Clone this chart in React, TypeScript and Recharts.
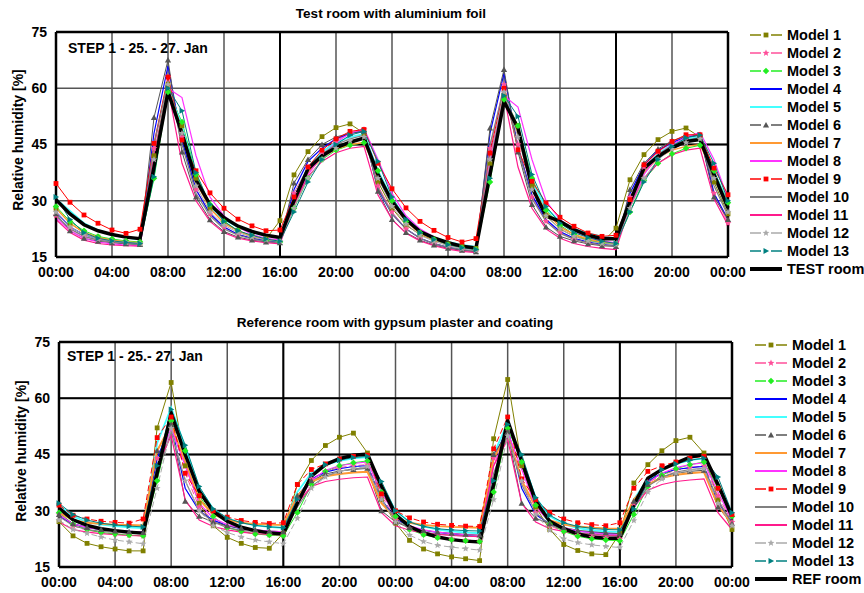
import React from "react";
import { LineChart, Line, XAxis, YAxis, CartesianGrid, ReferenceLine } from "recharts";

// hours since 00:00 on 25 Jan
const hours = [0, 1, 2, 3, 4, 5, 6, 7, 8, 9, 10, 11, 12, 13, 14, 15, 16, 17, 18, 19, 20, 21, 22, 23, 24, 25, 26, 27, 28, 29, 30, 31, 32, 33, 34, 35, 36, 37, 38, 39, 40, 41, 42, 43, 44, 45, 46, 47, 48];
const xTicks = [0, 4, 8, 12, 16, 20, 24, 28, 32, 36, 40, 44, 48];
const xTickLabels = ["00:00", "04:00", "08:00", "12:00", "16:00", "20:00", "00:00", "04:00", "08:00", "12:00", "16:00", "20:00", "00:00"];
const yTicks = [15, 30, 45, 60, 75];

const modelNames = ["Model 1", "Model 2", "Model 3", "Model 4", "Model 5", "Model 6", "Model 7", "Model 8", "Model 9", "Model 10", "Model 11", "Model 12", "Model 13"];

// ---- Test room with aluminium foil ----
const testM1 = [28, 24, 21.5, 20.3, 19.5, 19, 18.7, 42, 61, 50, 36, 28, 24, 22, 20.5, 19.8, 24.7, 36.9, 43.1, 47.1, 49.5, 50.5, 48, 35, 28, 23.5, 21, 19.5, 18.5, 17.8, 17.3, 40, 58, 50, 34, 26, 22.5, 20.5, 19.5, 18.8, 22.7, 35.6, 42.3, 46.3, 48.5, 49.4, 47, 35, 26.5];
const testM2 = [26, 22.5, 20.5, 19.5, 19, 18.6, 18.4, 44, 63, 47, 33, 26.5, 23, 21, 20, 19.4, 19, 32, 39, 43, 46, 48, 49, 34, 27, 22.5, 20, 18.5, 17.5, 16.8, 16.4, 44, 61, 45, 31, 24.5, 21.5, 19.8, 18.8, 18.2, 18, 31, 39, 43, 45.5, 47, 47.5, 32, 24];
const testM3 = [28.5, 24.5, 22, 20.5, 19.8, 19.3, 19, 36, 59, 51, 37, 29, 24.5, 22, 20.5, 19.5, 19, 28, 36, 41, 43.5, 44.8, 45.5, 38, 30, 24.5, 21.5, 19.7, 18.3, 17.5, 17, 35, 57, 50, 36, 27.5, 23.5, 21, 19.5, 18.7, 18.4, 27, 35.5, 40, 42.5, 44, 44.8, 38, 29.5];
const testM4 = [27, 23, 21, 19.8, 19.2, 18.8, 18.5, 48, 66, 46, 33, 26.5, 23, 21, 20, 19.3, 18.8, 33, 40.5, 44, 46.5, 48, 48.5, 33, 26.5, 22.5, 20, 18.6, 17.6, 17, 16.6, 48, 64, 44, 31.5, 25, 21.8, 20, 19, 18.4, 18, 32, 39.5, 43.5, 45.5, 47, 47.5, 32, 25];
const testM5 = [30.5, 27.3, 24, 22.2, 21, 20.2, 19.7, 40, 60, 50, 36, 28.5, 25, 23, 21.5, 20.8, 20.2, 31, 39, 43, 45.5, 47, 47.8, 38, 30.5, 25.5, 22, 20.2, 19, 18.2, 17.7, 40, 58, 49, 35, 28, 24.5, 22.5, 21.3, 20.5, 20, 30.5, 38.5, 42.5, 45, 46.5, 47, 38, 29];
const testM6 = [26.5, 22, 20, 19.2, 18.8, 18.5, 18.3, 52.2, 67.5, 43, 31, 24.9, 21.8, 20.3, 19.5, 19, 18.8, 34.7, 41, 45, 47, 48, 48.5, 32.5, 25, 21.5, 19.5, 18.2, 17.3, 16.8, 16.4, 49.4, 65, 43, 29, 23, 20.5, 19.3, 18.5, 18, 17.8, 33, 40, 43.8, 46, 47.2, 47.5, 31, 25];
const testM7 = [28, 24, 21.5, 20.2, 19.5, 19, 18.8, 40, 60, 49, 35, 28, 24, 22, 20.5, 19.8, 19.3, 30, 37.5, 41.5, 43.8, 45, 45.5, 37, 29.5, 24.5, 21.3, 19.6, 18.3, 17.5, 17, 40, 57.5, 48, 34, 27, 23, 21, 19.8, 19, 18.6, 29.5, 37.5, 41.5, 43.5, 44.5, 45, 37, 28];
const testM8 = [25.5, 22, 20, 19, 18.5, 18.2, 18, 40, 60, 57.5, 42, 31, 26, 23, 21, 20, 19.5, 29, 37, 42, 45.5, 48, 49.3, 41, 32, 26, 22.5, 20.3, 18.8, 17.8, 17.2, 40, 58, 55, 41, 30, 25, 22, 20.3, 19.3, 18.8, 28.5, 37, 42, 45, 47, 48.2, 41, 30.5];
const testM9 = [34.6, 29.6, 26.2, 24, 22.2, 21.3, 22.4, 45.3, 63, 46.2, 38, 32.1, 28, 25.1, 23.3, 22, 22.2, 31, 39, 43.5, 46.5, 48.5, 49, 40, 33.2, 28.1, 24.5, 22.1, 20.2, 19, 19.9, 42.7, 60, 43.6, 35.2, 29.4, 25.6, 23.2, 21.4, 20.5, 20.8, 30.3, 39.6, 43.2, 45.8, 47.6, 47.6, 38.7, 31.6];
const testM10 = [26, 22.5, 20.5, 19.5, 19, 18.6, 18.3, 45, 62, 45, 32, 26, 22.5, 20.8, 19.8, 19.2, 18.8, 30, 38, 42.5, 45, 46.5, 47.5, 33.5, 26.5, 22.5, 20, 18.6, 17.6, 17, 16.6, 45, 60, 44, 30.5, 24.5, 21.3, 19.7, 18.8, 18.2, 17.9, 29.5, 38, 42.3, 44.8, 46.2, 46.8, 34, 26];
const testM11 = [25, 21.5, 19.5, 18.6, 18.2, 18, 17.9, 42, 60, 40, 30, 24.5, 21.5, 20, 19.3, 18.8, 18.5, 29, 36.5, 40.5, 42.8, 44, 44.5, 31.5, 25, 21.3, 19.3, 18, 17.1, 16.5, 16.2, 42, 58, 39, 28, 22.5, 20, 18.6, 17.8, 17.3, 17, 28.5, 36, 40, 42.3, 43.5, 44, 30.5, 23.5];
const testM12 = [27, 23, 21, 19.8, 19.2, 18.9, 18.6, 41, 61, 48, 34, 27, 23.5, 21.5, 20.3, 19.6, 19.2, 28, 36, 41, 44, 46, 47, 36, 28.5, 23.8, 20.8, 19.2, 18, 17.2, 16.8, 41, 59, 47, 33, 26, 22.5, 20.5, 19.3, 18.6, 18.3, 28, 36, 41, 43.8, 45.5, 46.5, 36, 27];
const testM13 = [31, 25, 21.5, 20, 19.3, 18.9, 18.6, 36.4, 60, 54, 37.5, 29, 24.5, 22, 20.8, 19.8, 19.2, 27, 35, 41, 45, 47.5, 48.5, 40.5, 31, 25, 21.5, 19.7, 18.3, 17.5, 17, 36, 58, 52.5, 37, 28.5, 24, 21.5, 20.2, 19.2, 18.6, 27, 35, 41, 44.5, 46.8, 47.5, 40, 30];
const testRoom = [30.3, 26.5, 23.6, 22, 21, 20.3, 19.9, 39, 59, 48, 35.5, 29, 25.5, 23.2, 21.8, 20.8, 20.2, 30, 38.5, 42, 44.2, 45.6, 46.7, 37, 29.8, 25, 21.8, 20.1, 18.8, 17.9, 17.4, 37, 56.5, 49.4, 33.5, 26, 24.5, 22.3, 20.8, 19.9, 19.9, 29.8, 38.7, 41.8, 44.1, 45.8, 46.3, 37, 28.1];

// ---- Reference room with gypsum plaster and coating ----
const refM1 = [27.1, 23.3, 21.3, 20.4, 19.8, 19.3, 19.3, 52.1, 64.2, 42, 32, 26, 22.9, 21.3, 20.2, 20, 24, 37, 43.4, 47.4, 49.6, 50.7, 45.4, 33, 26.7, 22.1, 19.8, 18.5, 17.7, 17.2, 16.7, 49.2, 65, 42, 31, 25, 21, 19.4, 18.5, 18.3, 24, 37.4, 42.3, 46, 48.7, 49.6, 45.4, 33, 25];
const refM2 = [29, 26, 24.8, 24.2, 23.8, 23.5, 23.3, 44, 54, 40, 31, 27.5, 25.5, 24.5, 24, 23.6, 23.4, 33, 38.5, 40.5, 41.5, 42, 42.3, 34, 28, 25.2, 23.8, 23, 22.5, 22.2, 22, 44, 52, 38, 29.5, 26, 24.5, 23.5, 23, 22.7, 22.5, 32, 37.5, 39.5, 40.8, 41.5, 42, 34, 27];
const refM3 = [29.5, 26.5, 25, 24.2, 23.8, 23.5, 23.3, 38, 54, 46, 34, 28.5, 25.5, 24.5, 23.8, 23.5, 23.3, 29.5, 37, 40.5, 42, 42.8, 43.3, 35, 28.5, 25, 23.6, 22.8, 22.3, 22, 21.8, 35, 52, 43, 31.5, 26.5, 24.5, 23.2, 22.5, 22.2, 22, 29, 36.5, 39.5, 41.2, 42.3, 43, 36, 28.5];
const refM4 = [28.5, 26.5, 25.5, 25, 24.7, 24.5, 24.3, 44, 53, 36, 30, 27.5, 26, 25.2, 24.8, 24.5, 24.3, 34, 38.5, 40.3, 41.2, 41.8, 42, 33, 28, 25.8, 24.8, 24.2, 23.8, 23.5, 23.3, 44, 52, 36, 29, 26.5, 25.3, 24.6, 24.2, 23.9, 23.7, 33, 38, 40, 41, 41.5, 41.8, 32, 27];
const refM5 = [31.5, 28.5, 27, 26.3, 25.9, 25.6, 25.4, 48, 57.5, 47, 36, 30.5, 28, 26.8, 26.1, 25.7, 25.4, 35, 40, 42.2, 43.3, 44, 44.3, 37, 30, 27, 25.8, 25, 24.5, 24.2, 24, 45, 53.5, 44, 33.5, 28.5, 26.5, 25.4, 24.8, 24.5, 24.3, 33, 38.5, 41, 42.5, 43.5, 44, 37.5, 29];
const refM6 = [29, 26.5, 25.5, 25, 24.6, 24.4, 24.2, 46, 53, 32.5, 28.5, 27, 26, 25.3, 24.9, 24.6, 24.4, 34, 38, 39.8, 40.6, 41, 41.3, 30, 27, 25.5, 24.8, 24.3, 24, 23.7, 23.5, 45, 51, 32, 28, 26.5, 25.5, 24.8, 24.4, 24.1, 23.9, 32.5, 37, 39, 40, 40.5, 40.8, 31, 26.5];
const refM7 = [29.5, 27.5, 26.8, 26.5, 26.3, 26.2, 26.1, 46, 53, 43, 33, 29, 27.5, 26.8, 26.5, 26.3, 26.2, 34, 37.8, 39.2, 39.8, 40.2, 40.4, 32, 28, 26.8, 26.2, 25.9, 25.7, 25.6, 25.5, 44, 50.5, 38, 31, 27.5, 26.3, 25.8, 25.5, 25.3, 25.2, 33, 37, 38.8, 39.6, 40, 40.3, 31.5, 26.5];
const refM8 = [29, 26.5, 25.5, 25, 24.7, 24.5, 24.3, 42, 52, 42, 32, 28, 26.3, 25.4, 24.9, 24.6, 24.4, 32, 38, 40.8, 42, 42.6, 43, 35, 28.5, 26, 24.9, 24.3, 23.9, 23.6, 23.4, 42, 51, 41, 31, 27, 25.5, 24.6, 24.1, 23.8, 23.6, 31.5, 37.5, 40, 41.5, 42.3, 42.8, 35, 27.5];
const refM9 = [31.5, 28.8, 27.8, 27.2, 26.9, 26.7, 27.8, 49.5, 55, 40, 34, 30, 28.3, 27.4, 26.9, 26.6, 26.8, 37, 41, 42.5, 43.8, 44.5, 44.8, 34.5, 30, 28.1, 27, 26.4, 26.1, 25.9, 25.8, 46.5, 55, 38.5, 33, 29.5, 27.8, 26.8, 26.3, 26, 26.8, 36, 40.5, 42, 43, 44, 44.5, 36, 29];
const refM10 = [28.5, 26, 25, 24.5, 24.2, 24, 23.9, 40, 51, 38, 30, 27, 25.5, 24.8, 24.4, 24.2, 24, 31, 36.5, 39.2, 40.5, 41.2, 41.5, 33, 27.5, 25.2, 24.3, 23.8, 23.5, 23.3, 23.2, 40, 50, 37, 29.5, 26.2, 25, 24.2, 23.8, 23.5, 23.4, 31, 36.5, 39, 40.3, 41, 41.3, 33, 26.5];
const refM11 = [27, 25, 24.3, 23.9, 23.6, 23.4, 23.3, 42, 50, 33, 27.5, 25.8, 24.9, 24.3, 23.9, 23.7, 23.5, 32, 36.5, 37.8, 38.4, 38.8, 39, 29.5, 26, 24.8, 24.1, 23.7, 23.4, 23.2, 23.1, 42, 49, 32, 27, 25.2, 24.5, 24, 23.6, 23.4, 23.3, 31, 35.5, 37, 37.8, 38.2, 38.5, 29.5, 25];
const refM12 = [27.5, 25, 24, 23, 22.2, 21.7, 21.2, 36, 52, 38, 30, 26, 24.2, 23, 22.2, 21.7, 21.2, 28, 36, 39, 40.5, 41.3, 41.8, 33, 27, 23.5, 21.8, 20.8, 20.3, 19.9, 19.5, 33, 50, 38, 29, 24.8, 22.5, 21.5, 20.9, 20.5, 20.2, 27.4, 35, 38.5, 40, 40.8, 41.2, 32, 26];
const refM13 = [32, 29, 27.5, 26.7, 26.2, 25.9, 25.7, 42, 57, 47.5, 36.5, 30.5, 28, 26.8, 26.1, 25.7, 25.5, 33, 39.5, 42.3, 43.5, 44.2, 44.5, 37.8, 30, 27, 25.8, 25.2, 24.9, 24.7, 24.6, 38, 53, 45, 33.5, 28.8, 26.8, 25.8, 25.3, 25, 24.9, 30.5, 37.5, 41, 42.5, 43.5, 44, 39, 29.5];
const refRoom = [30.7, 27.6, 26.1, 25.2, 24.7, 24.3, 24, 40, 56, 45, 35.2, 29.8, 27.2, 25.6, 24.7, 24.1, 23.8, 32, 39.2, 42.3, 43.9, 44.8, 45.1, 36.5, 29, 25.8, 24.1, 23, 22.3, 21.9, 21.7, 37, 54, 43.2, 32.5, 27.2, 25.2, 23.8, 23, 22.7, 22.7, 31.6, 38.7, 41, 42.7, 44.3, 45, 37, 28.5];

type Shape = "square" | "star" | "diamond" | "triangle" | "tright" | null;
interface SeriesStyle { color: string; width: number; marker: Shape; dash?: string; msize?: number }

const baseStyles: SeriesStyle[] = [
  { color: "#808000", width: 1, marker: "square" },
  { color: "#ff4f9a", width: 1, marker: "star" },
  { color: "#22ee22", width: 1, marker: "diamond" },
  { color: "#0000ff", width: 1.2, marker: null },
  { color: "#44ffff", width: 1.8, marker: null },
  { color: "#555555", width: 1, marker: "triangle" },
  { color: "#ff9933", width: 1.5, marker: null },
  { color: "#ff33ff", width: 1.2, marker: null },
  { color: "#ff0000", width: 1, marker: "square" },
  { color: "#808080", width: 1.2, marker: null },
  { color: "#ff1a8c", width: 1.2, marker: null },
  { color: "#aaaaaa", width: 1, marker: "star" },
  { color: "#008080", width: 1, marker: "tright" },
];
const roomStyle: SeriesStyle = { color: "#000000", width: 3.5, marker: null };

const topStyles = [...baseStyles, roomStyle];
const bottomStyles = baseStyles
  .map((s, i) => (i === 1 || i === 8 || i === 11 ? { ...s, dash: "6 3" } : i === 6 ? { ...s, width: 2 } : s))
  .concat([roomStyle]);

function buildRows(series: number[][]) {
  return hours.map((h, i) => {
    const row: Record<string, number> = { hour: h };
    series.forEach((s, k) => {
      row[`s${k}`] = s[i];
    });
    return row;
  });
}

const topRows = buildRows([testM1, testM2, testM3, testM4, testM5, testM6, testM7, testM8, testM9, testM10, testM11, testM12, testM13, testRoom]);
const bottomRows = buildRows([refM1, refM2, refM3, refM4, refM5, refM6, refM7, refM8, refM9, refM10, refM11, refM12, refM13, refRoom]);

const FONT = "'Liberation Sans', Arial, sans-serif";

function MarkerShape({ cx, cy, shape, color, r }: { cx?: number; cy?: number; shape: Shape; color: string; r: number }) {
  if (cx == null || cy == null || !shape) return null;
  if (shape === "square") return <rect x={cx - r} y={cy - r} width={2 * r} height={2 * r} fill={color} />;
  if (shape === "diamond") {
    const d = r * 1.35;
    return <polygon points={`${cx},${cy - d} ${cx + d},${cy} ${cx},${cy + d} ${cx - d},${cy}`} fill={color} />;
  }
  if (shape === "triangle") {
    const d = r * 1.3;
    return <polygon points={`${cx},${cy - d} ${cx + d},${cy + d * 0.8} ${cx - d},${cy + d * 0.8}`} fill={color} />;
  }
  if (shape === "tright") {
    const d = r * 1.3;
    return <polygon points={`${cx - d * 0.8},${cy - d} ${cx + d},${cy} ${cx - d * 0.8},${cy + d}`} fill={color} />;
  }
  // star
  const pts: string[] = [];
  const R = r * 1.5;
  for (let i = 0; i < 10; i++) {
    const rad = i % 2 === 0 ? R : R * 0.45;
    const a = -Math.PI / 2 + (i * Math.PI) / 5;
    pts.push(`${cx + rad * Math.cos(a)},${cy + rad * Math.sin(a)}`);
  }
  return <polygon points={pts.join(" ")} fill={color} />;
}

interface PanelProps {
  top: number;
  height: number;
  marginTop: number;
  marginRight: number;
  yWidth: number;
  xHeight: number;
  rows: Record<string, number>[];
  styles: SeriesStyle[];
  majorY: number[];
  majorX: number[];
}

function Panel({ top, height, marginTop, marginRight, yWidth, xHeight, rows, styles, majorY, majorX }: PanelProps) {
  const tickStyle = { fontSize: 14, fontWeight: "bold", fill: "#000", fontFamily: FONT };
  return (
    <div style={{ position: "absolute", left: 0, top }}>
      <LineChart width={864} height={height} data={rows} margin={{ top: marginTop, right: marginRight, bottom: 0, left: 0 }}>
        <CartesianGrid stroke="#555" strokeWidth={1.5} />
        <XAxis
          dataKey="hour"
          type="number"
          domain={[0, 48]}
          ticks={xTicks}
          interval={0}
          tickFormatter={(_v: number, i: number) => xTickLabels[i]}
          height={xHeight}
          tickLine={false}
          axisLine={false}
          tickMargin={4}
          tick={tickStyle}
        />
        <YAxis
          type="number"
          domain={[15, 75]}
          ticks={yTicks}
          interval={0}
          allowDataOverflow
          width={yWidth}
          tickLine={false}
          axisLine={false}
          tickMargin={3}
          tick={tickStyle}
        />
        {majorY.map((v) => (
          <ReferenceLine key={`my${v}`} y={v} stroke="#000" strokeWidth={2} />
        ))}
        {majorX.map((v) => (
          <ReferenceLine key={`mx${v}`} x={v} stroke="#000" strokeWidth={2} />
        ))}
        {styles.map((st, k) => (
          <Line
            key={`s${k}`}
            type="linear"
            dataKey={`s${k}`}
            stroke={st.color}
            strokeWidth={st.width}
            strokeDasharray={st.dash}
            dot={
              st.marker
                ? (p: any) => <MarkerShape key={`d${k}-${p.index}`} cx={p.cx} cy={p.cy} shape={st.marker} color={st.color} r={st.msize ?? 2.4} />
                : false
            }
            activeDot={false}
            isAnimationActive={false}
          />
        ))}
        <ReferenceLine y={75} stroke="#000" strokeWidth={2.5} />
        <ReferenceLine y={15} stroke="#000" strokeWidth={2.5} />
        <ReferenceLine x={0} stroke="#000" strokeWidth={2.5} />
        <ReferenceLine x={48} stroke="#000" strokeWidth={2.5} />
      </LineChart>
    </div>
  );
}

function LegendSample({ st }: { st: SeriesStyle }) {
  return (
    <svg width={32} height={18} style={{ display: "block" }}>
      {st.marker ? (
        <g>
          <line x1={0} y1={9} x2={11} y2={9} stroke={st.color} strokeWidth={1.5} />
          <line x1={21} y1={9} x2={32} y2={9} stroke={st.color} strokeWidth={1.5} />
          <MarkerShape cx={16} cy={9} shape={st.marker} color={st.color} r={2.4} />
        </g>
      ) : (
        <line x1={0} y1={9} x2={32} y2={9} stroke={st.color} strokeWidth={st.width > 3 ? 4 : Math.max(st.width, 2)} />
      )}
    </svg>
  );
}

function LegendBox({ left, top, styles, names }: { left: number; top: number; styles: SeriesStyle[]; names: string[] }) {
  return (
    <div style={{ position: "absolute", left, top }}>
      {names.map((n, i) => (
        <div key={n} style={{ position: "absolute", left: 0, top: i * 18 - 9, height: 18, display: "flex", alignItems: "center", whiteSpace: "nowrap" }}>
          <LegendSample st={styles[i]} />
          <span style={{ marginLeft: 5, fontSize: 14.5, fontWeight: "bold", fontFamily: FONT, color: "#000" }}>{n}</span>
        </div>
      ))}
    </div>
  );
}

const textBase: React.CSSProperties = { position: "absolute", fontFamily: FONT, fontWeight: "bold", color: "#000", whiteSpace: "nowrap", lineHeight: 1 };

export default function App() {
  return (
    <div style={{ position: "absolute", left: 0, top: 0, width: 864, height: 593, background: "#fff", overflow: "hidden" }}>
      <Panel top={0} height={290} marginTop={32} marginRight={136} yWidth={56} xHeight={33} rows={topRows} styles={topStyles} majorY={[45]} majorX={[16, 40]} />
      <Panel top={300} height={293} marginTop={42} marginRight={132} yWidth={59} xHeight={26} rows={bottomRows} styles={bottomStyles} majorY={[30, 45, 60]} majorX={[16, 40]} />

      <div style={{ ...textBase, fontSize: 13.5, left: 391, top: 6.5, transform: "translateX(-50%)" }}>Test room with aluminium foil</div>
      <div style={{ ...textBase, fontSize: 13.5, left: 395, top: 315.5, transform: "translateX(-50%)" }}>Reference room with gypsum plaster and coating</div>

      <div style={{ ...textBase, fontSize: 14, left: 68, top: 41 }}>STEP 1 - 25. - 27. Jan</div>
      <div style={{ ...textBase, fontSize: 14, left: 67, top: 349 }}>STEP 1 - 25.- 27. Jan</div>

      <div style={{ ...textBase, fontSize: 14, left: 17.5, top: 139.5, transform: "translate(-50%, -50%) rotate(-90deg)" }}>Relative humidity [%]</div>
      <div style={{ ...textBase, fontSize: 14, left: 21, top: 450.5, transform: "translate(-50%, -50%) rotate(-90deg)" }}>Relative humidity [%]</div>

      <LegendBox left={750} top={35} styles={topStyles} names={[...modelNames, "TEST room"]} />
      <LegendBox left={755} top={345} styles={bottomStyles} names={[...modelNames, "REF room"]} />
    </div>
  );
}
